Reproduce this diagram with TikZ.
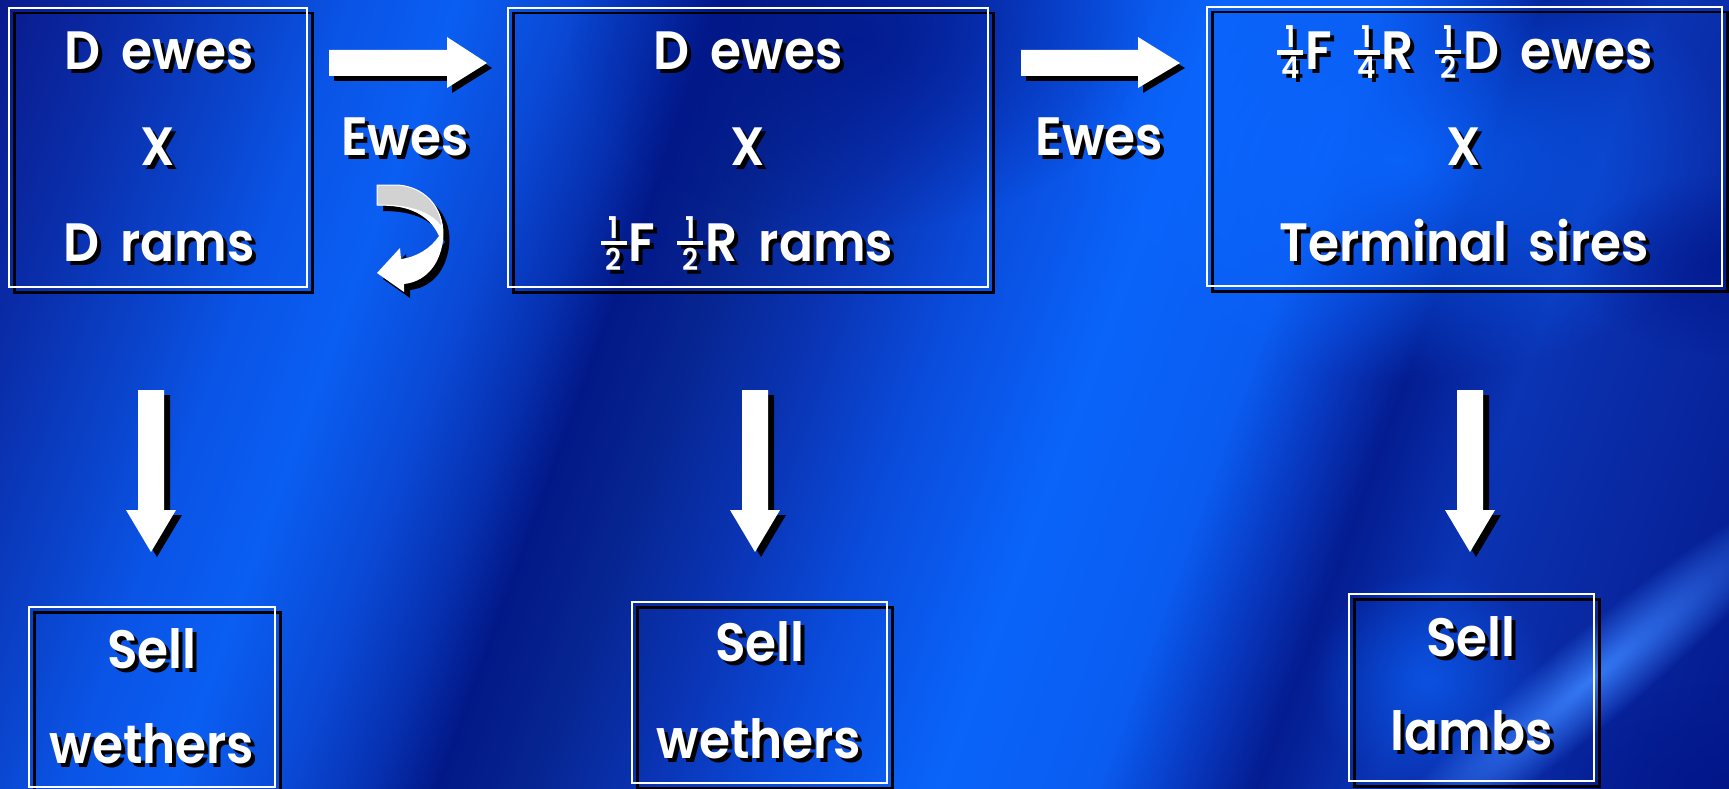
\documentclass[tikz,border=0pt]{standalone}
\usepackage{fontspec}
\usetikzlibrary{fadings}
\newfontfamily\comic{Poppins}[UprightFont=* SemiBold, FakeStretch=0.93, WordSpace=1.8]

% background streak colours
\definecolor{sA}{HTML}{0A1A8C}
\definecolor{sB}{HTML}{0A2CA8}
\definecolor{sC}{HTML}{0A44CC}
\definecolor{sD}{HTML}{0A54E6}
\definecolor{sE}{HTML}{0A5EF2}
\definecolor{sF}{HTML}{0A48D4}
\definecolor{sG}{HTML}{0630B0}
\definecolor{sH}{HTML}{021888}
\definecolor{sI}{HTML}{06248F}
\definecolor{sJ}{HTML}{0A34B4}
\definecolor{sK}{HTML}{0A4CDC}
\definecolor{sL}{HTML}{0A64FA}
\definecolor{sM}{HTML}{0A5CF0}
\definecolor{sN}{HTML}{0838C0}
\definecolor{sO}{HTML}{041C90}
\definecolor{sP}{HTML}{0A34B4}
\definecolor{sQ}{HTML}{0A2CA8}
\definecolor{sR}{HTML}{04198C}
\definecolor{navy}{HTML}{02168A}
\definecolor{brightblue}{HTML}{0A66FF}
\definecolor{glint}{HTML}{3A82FF}
\definecolor{ribbongray}{HTML}{D2D2D2}

\pgfdeclarehorizontalshading{slide}{100bp}{%
  color(0bp)=(sA); color(25bp)=(sA); color(28.17bp)=(sB); color(31.60bp)=(sC);
  color(33.71bp)=(sD); color(36.35bp)=(sE); color(39.25bp)=(sF); color(41.36bp)=(sG);
  color(42.94bp)=(sH); color(45.05bp)=(sI); color(48.22bp)=(sJ); color(51.39bp)=(sK);
  color(55.34bp)=(sL); color(59.30bp)=(sM); color(61.41bp)=(sN); color(63.26bp)=(sO);
  color(66.16bp)=(sP); color(68.54bp)=(sQ); color(75bp)=(sR); color(100bp)=(sR)}

\tikzfading[name=softspot, inner color=transparent!0, outer color=transparent!100]

% soft elliptical patch: style, opacity, centre, radii, tilt
\newcommand\patch[6]{%
  \begin{scope}[transform canvas={rotate around={#6:(#3)}}]
    \fill[#1, path fading=softspot, fill opacity=#2] (#3) ellipse [x radius=#4, y radius=#5];
  \end{scope}}

% stacked fraction: numerator over a bar over denominator
\newcommand\stk[2]{\lower9pt\hbox{\fontsize{30}{30}\selectfont
  \vbox{\hbox to 26pt{\hss#1\hss}\kern2.5pt\hrule height 4.5pt\kern2.5pt\hbox to 26pt{\hss#2\hss}}}\kern2pt}

% white label with a black drop shadow
\newcommand\slabel[3]{%
  \node[lblsh, xshift=4pt, yshift=-4pt] (#1sh) at (#2) {#3};
  \node[lbl] (#1) at (#2) {#3};}

% white frame with a black offset copy
\newcommand\frameat[5]{%
  \node[framesh, minimum width=#4pt, minimum height=#5pt] (#1sh) at (#2+5,#3+5) {};
  \node[frame, minimum width=#4pt, minimum height=#5pt] (#1) at (#2,#3) {};}

% block arrow pointing right: body left, head base, tip
\newcommand\rarrow[4]{%
  \fill[#1] (#2,50) -- (#3,50) -- (#3,37) -- (#4,63) -- (#3,88) -- (#3,76) -- (#2,76) -- cycle;}

% block arrow pointing down, centred on x
\newcommand\darrow[2]{%
  \fill[#1] (#2-13,390) -- (#2+13,390) -- (#2+13,510) -- (#2+25,510) -- (#2,552)
    -- (#2-25,510) -- (#2-13,510) -- cycle;}

% twisted ribbon arrow curling back to the left
\newcommand\ribbon[1]{%
  \fill[#1] (377,185) -- (398,185) .. controls (427,188) and (447,212) .. (443,241)
    .. controls (439,268) and (423,282) .. (404,284) -- (404,292) -- (377,273)
    -- (400,248) -- (401,259) .. controls (417,257) and (431,248) .. (439,236)
    .. controls (429,214) and (408,205) .. (377,205) -- cycle;}

\begin{document}
\begin{tikzpicture}[x=1pt,y=-1pt,
  lbl/.style={font=\comic\fontsize{54}{60}\selectfont, text=white, anchor=base, inner sep=0pt},
  lblsh/.style={lbl, text=black},
  frame/.style={draw=white, line width=2pt, inner sep=0pt, anchor=north west},
  framesh/.style={draw=black, line width=2.5pt, inner sep=0pt, anchor=north west},
  dropfill/.style={fill=black},
  facefill/.style={fill=white}]

\useasboundingbox (0,0) rectangle (1729,789);

% streaked blue backdrop
\begin{scope}
  \clip (0,0) rectangle (1729,789);
  \begin{scope}[transform canvas={rotate=-20}]
    \shade[shading=slide] (0,-2200) rectangle (1895,2200);
  \end{scope}
  % darker and lighter patches
  \patch{navy}{0.75}{860,40}{290}{190}{0.1}
  \patch{brightblue}{0.9}{1400,160}{340}{220}{0.1}
  \patch{navy}{0.7}{1725,265}{150}{90}{0.1}
  \patch{navy}{0.85}{1720,785}{170}{100}{0.1}
  \patch{brightblue}{0.6}{1430,680}{120}{110}{0.1}
  % light glint low on the right
  \patch{glint}{0.9}{1590,680}{300}{45}{40}
\end{scope}

% frames
\frameat{box1}{8}{7}{298}{279}
\frameat{box2}{507}{7}{480}{279}
\frameat{box3}{1206}{6}{515}{279}
\frameat{box4}{28}{606}{246}{180}
\frameat{box5}{631}{601}{255}{181}
\frameat{box6}{1348}{593}{245}{187}

% right-pointing block arrows
\begin{scope}[shift={(5,5)}]
  \rarrow{dropfill}{329}{447}{487}
  \rarrow{dropfill}{1021}{1138}{1180}
\end{scope}
\rarrow{facefill}{329}{447}{487}
\rarrow{facefill}{1021}{1138}{1180}

% downward block arrows
\begin{scope}[shift={(6,5)}]
  \darrow{dropfill}{151}
  \darrow{dropfill}{755}
  \darrow{dropfill}{1470}
\end{scope}
\darrow{facefill}{151}
\darrow{facefill}{755}
\darrow{facefill}{1470}

% ribbon arrow with its shadow and grey back face
\begin{scope}[shift={(6,6)}]
  \ribbon{dropfill}
\end{scope}
\ribbon{facefill}
\fill[ribbongray, draw=white, line width=1pt] (377,185) -- (398,185)
  .. controls (424,187) and (441,206) .. (442,228)
  .. controls (431,211) and (408,205) .. (377,205) -- cycle;

% first cross
\slabel{t1a}{159,70}{D ewes}
\slabel{t1b}{158,165}{X}
\slabel{t1c}{159,261}{D rams}

% second cross
\slabel{t2a}{748,70}{D ewes}
\slabel{t2b}{748,165}{X}
\slabel{t2c}{747,261}{\stk{1}{2}F \stk{1}{2}R rams}

% third cross
\slabel{t3a}{1465,70}{\stk{1}{4}F \stk{1}{4}R \stk{1}{2}D ewes}
\slabel{t3b}{1464,165}{X}
\slabel{t3c}{1464,261}{Terminal sires}

% retained ewes
\slabel{e1}{405,156}{Ewes}
\slabel{e2}{1099,156}{Ewes}

% outputs
\slabel{s1a}{152,668}{Sell}
\slabel{s1b}{152,763}{wethers}
\slabel{s2a}{760,661}{Sell}
\slabel{s2b}{759,758}{wethers}
\slabel{s3a}{1471,656}{Sell}
\slabel{s3b}{1472,750}{lambs}
\end{tikzpicture}
\end{document}
